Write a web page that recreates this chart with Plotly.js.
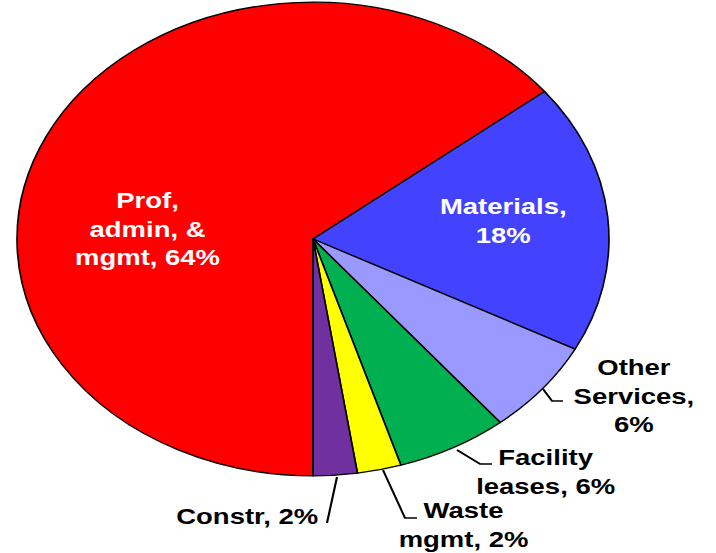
<!DOCTYPE html>
<html><head><meta charset="utf-8">
<script src="https://cdn.plot.ly/plotly-3.0.1.min.js"></script>
<style>
html,body{margin:0;padding:0;background:#fff;overflow:hidden;}
#chart{width:573px;height:553px;transform:scaleX(1.24956);transform-origin:0 0;}
</style></head><body><div id="chart"></div>
<script>
// ---- data ----
const categories = ["Prof, admin, & mgmt", "Materials", "Other Services", "Facility leases", "Waste mgmt", "Constr"];
const values = [64.3, 18.4, 6.4, 6.1, 2.4, 2.4];
const sliceColors = ["#FF0000", "#4343FF", "#9999FF", "#00B050", "#FFFF00", "#7030A0"];
const labelTexts = ["Prof,<br>admin, &<br>mgmt, 64%", "Materials,<br>18%", "Other<br>Services,<br>6%", "Facility<br>leases, 6%", "Waste<br>mgmt, 2%", "Constr, 2%"];
const labelColors = ["#FFFFFF", "#FFFFFF", "#000000", "#000000", "#000000", "#000000"];

// ---- layout (reference pixel positions) ----
const W = 716, H = 553;
const labelPos = [[147, 229], [503, 221], [634, 396], [546, 472], [463, 525], [247, 516]];
const leaders = [null, null,
  [[543, 389], [552, 401], [563, 401]],
  [[457, 450], [480, 464], [492, 464]],
  [[383, 470], [405, 518], [417, 518]],
  [[337, 477], [327, 523]]];

const px = x => x / W;
const py = y => 1 - y / H;

const annotations = labelTexts.map((t, i) => ({
  text: t, xref: 'paper', yref: 'paper',
  x: px(labelPos[i][0]), y: py(labelPos[i][1]),
  xanchor: 'center', yanchor: 'middle', align: 'center', showarrow: false,
  font: {family: 'Liberation Sans, Arial, sans-serif', size: 22, weight: 'bold', color: labelColors[i]}
}));

const shapes = leaders.filter(l => l).map(l => ({
  type: 'path', xref: 'paper', yref: 'paper',
  path: l.map((p, j) => (j ? 'L' : 'M') + px(p[0]) + ',' + py(p[1])).join(' '),
  line: {color: '#000', width: 1.7}
}));

const trace = {
  type: 'pie', labels: categories, values: values, sort: false,
  direction: 'clockwise', rotation: 180,
  marker: {colors: sliceColors, line: {color: '#000', width: 1.3}},
  textinfo: 'none', hoverinfo: 'skip', showlegend: false,
  domain: {x: [17 / W, 609 / W], y: [1 - 476 / H, 1 - 2 / H]}
};

Plotly.newPlot('chart', [trace], {
  width: 573, height: 553, margin: {l: 0, r: 0, t: 0, b: 0},
  paper_bgcolor: '#fff', plot_bgcolor: '#fff', showlegend: false,
  annotations: annotations, shapes: shapes
}, {staticPlot: true, displayModeBar: false});
</script></body></html>
